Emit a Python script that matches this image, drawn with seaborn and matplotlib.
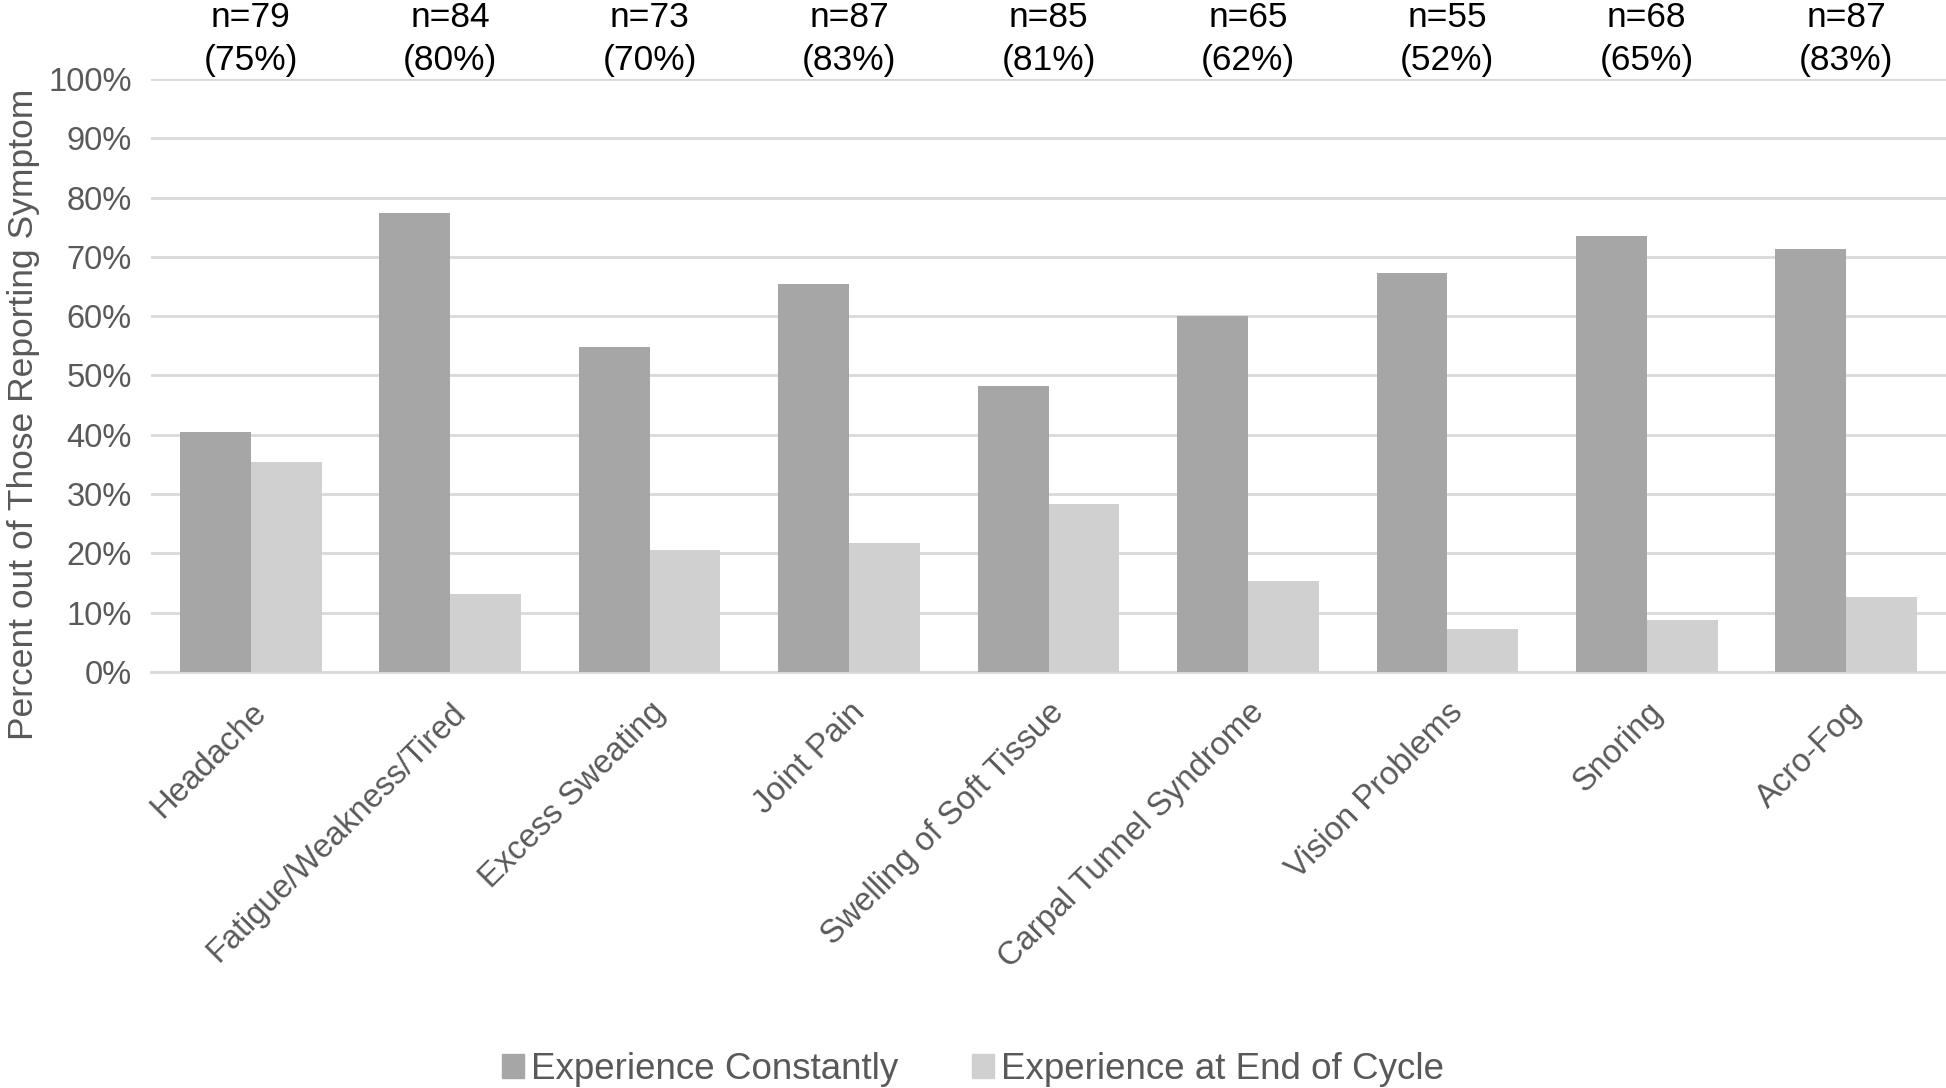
import pandas as pd
import numpy as np
import matplotlib
matplotlib.use('Agg')
import matplotlib.pyplot as plt
import matplotlib.transforms as mtransforms
from matplotlib.ticker import PercentFormatter
import seaborn as sns

symptoms = ['Headache', 'Fatigue/Weakness/Tired', 'Excess Sweating', 'Joint Pain',
            'Swelling of Soft Tissue', 'Carpal Tunnel Syndrome', 'Vision Problems',
            'Snoring', 'Acro-Fog']
constantly = [40.5, 77.4, 54.8, 65.5, 48.2, 60.0, 67.3, 73.5, 71.3]
end_of_cycle = [35.4, 13.1, 20.6, 21.8, 28.3, 15.4, 7.2, 8.8, 12.6]
n_reporting = [79, 84, 73, 87, 85, 65, 55, 68, 87]
pct_reporting = [75, 80, 70, 83, 81, 62, 52, 65, 83]
series = ['Experience Constantly', 'Experience at End of Cycle']

df = pd.DataFrame({
    'Symptom': symptoms * 2,
    'Series': [series[0]] * len(symptoms) + [series[1]] * len(symptoms),
    'Percent': constantly + end_of_cycle,
})

sns.set_style('white')
plt.rcParams['font.family'] = ['Liberation Sans', 'DejaVu Sans']

fig = plt.figure(figsize=(19.46, 10.88), dpi=100)
ax = fig.add_axes([0.0776, 0.3824, 0.9224, 0.545])

sns.barplot(data=df, x='Symptom', y='Percent', hue='Series', order=symptoms,
            hue_order=series, palette=['#a6a6a6', '#d0d0d0'], width=0.71,
            saturation=1, errorbar=None, linewidth=0, ax=ax, zorder=3)

ax.set_ylim(0, 100)
ax.set_xlim(-0.5, len(symptoms) - 0.5)
ax.set_yticks(np.arange(0, 101, 10))
ax.yaxis.set_major_formatter(PercentFormatter(decimals=0))
ax.grid(axis='y', color='#d9d9d9', linewidth=2, zorder=0)
ax.set_axisbelow(True)
for s in ['top', 'right', 'left']:
    ax.spines[s].set_visible(False)
ax.spines['bottom'].set_color('#d9d9d9')
ax.spines['bottom'].set_linewidth(2)

ax.tick_params(axis='y', labelsize=23.5, labelcolor='#595959', length=0, pad=14)
ax.tick_params(axis='x', labelsize=23.5, labelcolor='#595959', length=0, pad=18)
plt.setp(ax.get_xticklabels(), rotation=45, ha='right', rotation_mode='anchor')
ax.set_xlabel('')
ax.set_ylabel('Percent out of Those Reporting Symptom', fontsize=25.5, color='#595959')
ax.yaxis.set_label_coords(-0.062, 0.435)

trans = mtransforms.blended_transform_factory(ax.transData, ax.transAxes)
for i, (n, p) in enumerate(zip(n_reporting, pct_reporting)):
    ax.text(i, 1.104, f'n={n}', transform=trans, ha='center', va='center', fontsize=25.5, color='black')
    ax.text(i, 1.031, f'({p}%)', transform=trans, ha='center', va='center', fontsize=25.5, color='black')

ax.get_legend().remove()
handles = [plt.Rectangle((0, 0), 1, 1, color=c) for c in ['#a6a6a6', '#d0d0d0']]
fig.legend(handles, series, loc='center', bbox_to_anchor=(0.5, 0.017), ncol=2, frameon=False,
           fontsize=26.5, labelcolor='#595959', handlelength=0.6, handleheight=0.6,
           handletextpad=0.2, columnspacing=2.0)

fig.savefig('out.png', dpi=100)
